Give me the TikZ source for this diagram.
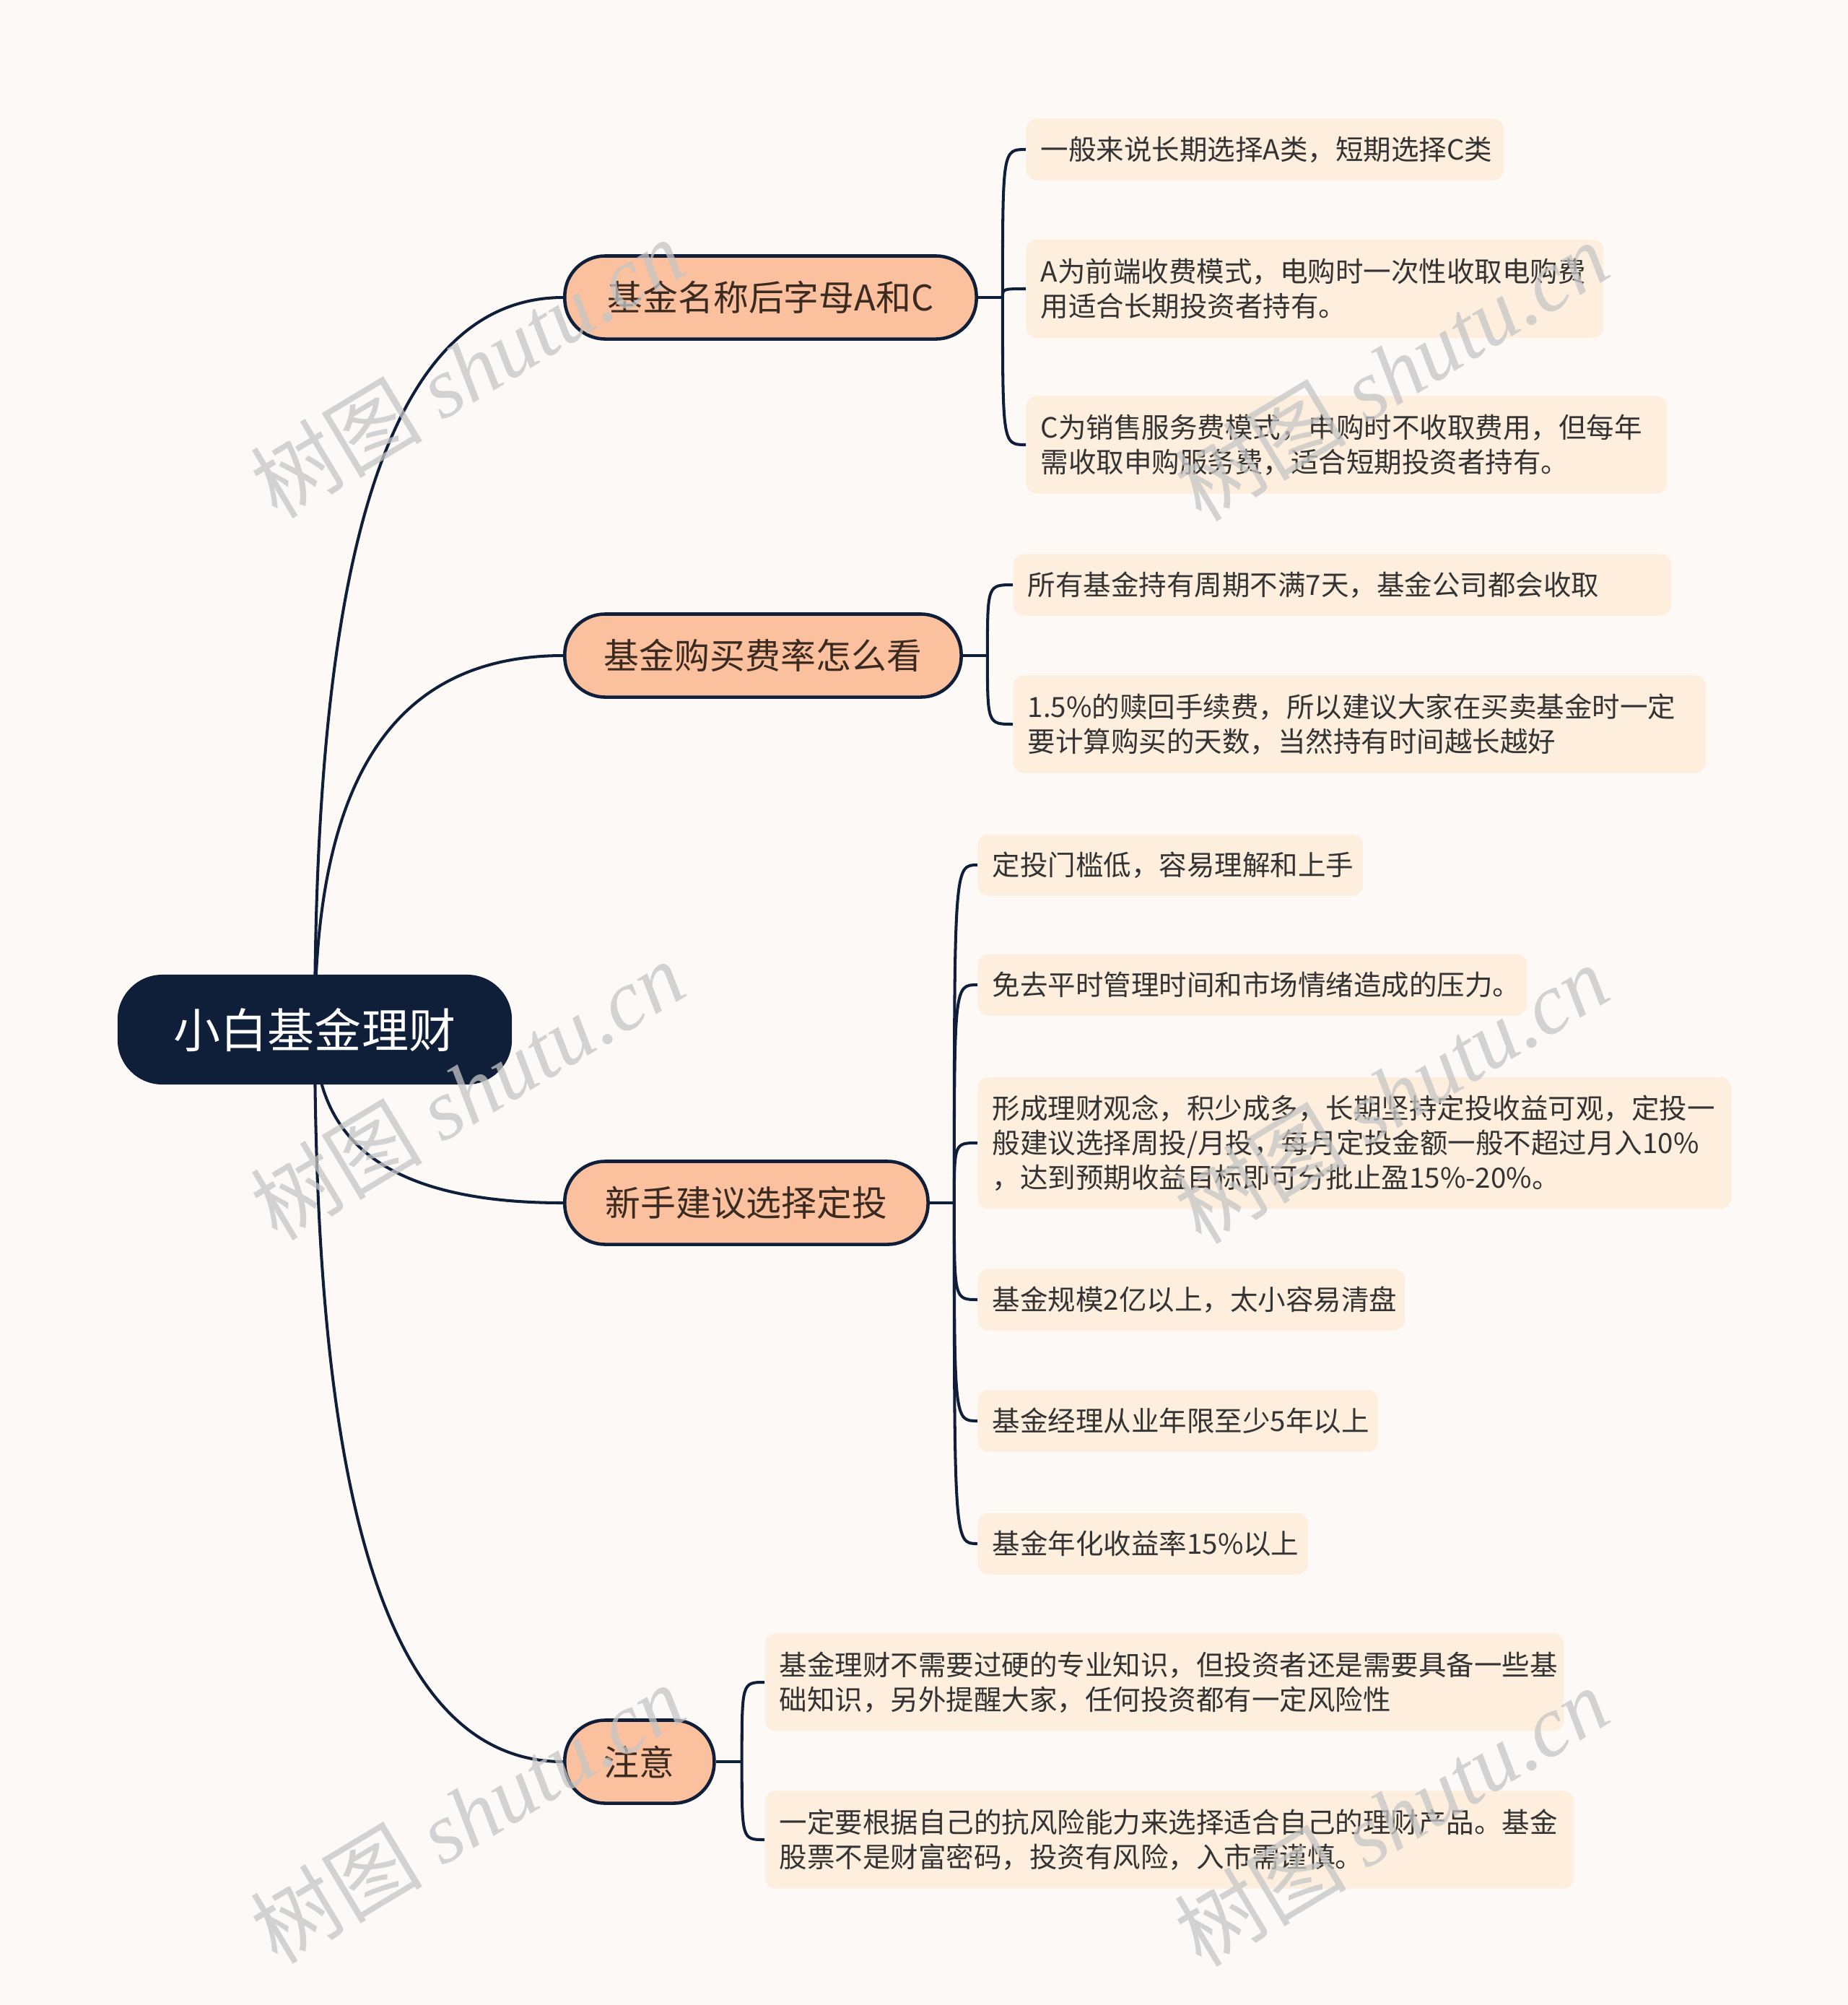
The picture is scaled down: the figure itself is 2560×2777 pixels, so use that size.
\documentclass[tikz,border=0pt]{standalone}
\usepackage{fontspec}
\setmainfont{Noto Sans CJK SC}
\newfontfamily\wmcjk{Noto Sans CJK SC}
\newfontfamily\wmlat{Liberation Serif}
\usetikzlibrary{calc}
\definecolor{bgc}{HTML}{FCF9F7}
\definecolor{navy}{HTML}{0F1F3A}
\definecolor{peach}{HTML}{FBC09D}
\definecolor{leafc}{HTML}{FDEEDD}
\definecolor{txtc}{HTML}{333333}
\definecolor{brtxt}{HTML}{3A2A20}
\pgfdeclarelayer{bglayer}
\pgfdeclarelayer{edges}
\pgfdeclarelayer{wm}
\pgfsetlayers{bglayer,edges,main,wm}
\tikzset{
  rootnode/.style={fill=navy, text=white, rounded corners=0.62cm, inner sep=0pt,
    minimum width=5.46cm, minimum height=1.52cm,
    font=\fontsize{18.5pt}{22pt}\selectfont},
  branchnode/.style={fill=peach, draw=navy, line width=1.3pt, text=brtxt,
    rounded corners=0.56cm, inner sep=0pt, anchor=west, minimum height=1.15cm,
    font=\fontsize{13.9pt}{17pt}\selectfont},
  leafnode/.style={fill=leafc, text=txtc, rounded corners=0.15cm, anchor=west,
    inner xsep=0.2cm, inner ysep=0pt, align=left,
    font=\fontsize{10.95pt}{13.66pt}\selectfont},
  conn/.style={draw=navy, line width=1.15pt},
  wmark/.style={text=gray!45, text opacity=0.75, rotate=31, inner sep=0pt}
}
\begin{document}
\begin{tikzpicture}[x=0.01cm,y=-0.01cm]
\begin{pgfonlayer}{bglayer}
\fill[bgc] (0,0) rectangle (2560,2777);
\end{pgfonlayer}
\useasboundingbox (0,0) rectangle (2560,2777);

% root
\node[rootnode] (root) at (436,1426) {小白基金理财};

% branches
\node[branchnode, minimum width=5.70cm] (b1) at (780,412) {基金名称后字母A和C};
\node[branchnode, minimum width=5.49cm] (b2) at (780,908) {基金购买费率怎么看};
\node[branchnode, minimum width=5.03cm] (b3) at (780,1666) {新手建议选择定投};
\node[branchnode, minimum width=2.07cm] (b4) at (780,2440) {注意};

% leaves group 1
\node[leafnode, text width=6.21cm, minimum height=0.85cm] (l1a) at (1421,207) {一般来说长期选择A类，短期选择C类};
\node[leafnode, text width=7.59cm, minimum height=1.36cm] (l1b) at (1421,400) {A为前端收费模式，电购时一次性收取电购费\\用适合长期投资者持有。};
\node[leafnode, text width=8.47cm, minimum height=1.35cm] (l1c) at (1421,616) {C为销售服务费模式，申购时不收取费用，但每年\\需收取申购服务费，适合短期投资者持有。};
% group 2
\node[leafnode, text width=8.71cm, minimum height=0.85cm] (l2a) at (1403,810) {所有基金持有周期不满7天，基金公司都会收取};
\node[leafnode, text width=9.19cm, minimum height=1.35cm] (l2b) at (1403,1003) {1.5\%的赎回手续费，所以建议大家在买卖基金时一定\\要计算购买的天数，当然持有时间越长越好};
% group 3
\node[leafnode, text width=4.93cm, minimum height=0.85cm] (l3a) at (1354,1198) {定投门槛低，容易理解和上手};
\node[leafnode, text width=7.20cm, minimum height=0.85cm] (l3b) at (1354,1364) {免去平时管理时间和市场情绪造成的压力。};
\node[leafnode, text width=10.03cm, minimum height=1.82cm] (l3c) at (1354,1583) {形成理财观念，积少成多，长期坚持定投收益可观，定投一\\般建议选择周投/月投，每月定投金额一般不超过月入10\%\\，达到预期收益目标即可分批止盈15\%-20\%。};
\node[leafnode, text width=5.51cm, minimum height=0.85cm] (l3d) at (1354,1800) {基金规模2亿以上，太小容易清盘};
\node[leafnode, text width=5.14cm, minimum height=0.85cm] (l3e) at (1354,1968) {基金经理从业年限至少5年以上};
\node[leafnode, text width=4.17cm, minimum height=0.85cm] (l3f) at (1354,2138) {基金年化收益率15\%以上};
% group 4
\node[leafnode, text width=10.66cm, minimum height=1.35cm] (l4a) at (1059,2330) {基金理财不需要过硬的专业知识，但投资者还是需要具备一些基\\础知识，另外提醒大家，任何投资都有一定风险性};
\node[leafnode, text width=10.80cm, minimum height=1.35cm] (l4b) at (1059,2548) {一定要根据自己的抗风险能力来选择适合自己的理财产品。基金\\股票不是财富密码，投资有风险，入市需谨慎。};

% junctions
\coordinate (j1) at ($(b1.east)+(34,0)$);
\coordinate (j2) at ($(b2.east)+(34,0)$);
\coordinate (j3) at ($(b3.east)+(34,0)$);
\coordinate (j4) at ($(b4.east)+(36,0)$);

\begin{pgfonlayer}{edges}
\foreach \b in {b1,b2,b3,b4}{
  \draw[conn] (root.center) .. controls ($(root.center)!0.6!(root.center |- \b.west)$) and ($(\b.west)!0.75!(root.center |- \b.west)$) .. (\b.west);
}
\draw[conn] (b1.east) -- (j1);
\draw[conn] (b2.east) -- (j2);
\draw[conn] (b3.east) -- (j3);
\draw[conn] (b4.east) -- (j4);
\foreach \l in {l1a,l1b,l1c}{
  \draw[conn] (j1) .. controls (j1 |- \l.west) and (j1 |- \l.west) .. (\l.west);
}
\foreach \l in {l2a,l2b}{
  \draw[conn] (j2) .. controls (j2 |- \l.west) and (j2 |- \l.west) .. (\l.west);
}
\foreach \l in {l3a,l3b,l3c,l3d,l3e,l3f}{
  \draw[conn] (j3) .. controls (j3 |- \l.west) and (j3 |- \l.west) .. (\l.west);
}
\foreach \l in {l4a,l4b}{
  \draw[conn] (j4) .. controls (j4 |- \l.west) and (j4 |- \l.west) .. (\l.west);
}
\end{pgfonlayer}

% watermarks
\begin{pgfonlayer}{wm}
\foreach \p [count=\i] in {(647,510),(1927,514),(647,1510),(1927,1515),(647,2512),(1927,2516)}{
  \node[wmark] (wm\i) at \p {\fontsize{34pt}{34pt}\selectfont\wmcjk 树图 \wmlat\itshape shutu.cn};
}
\end{pgfonlayer}
\end{tikzpicture}
\end{document}
